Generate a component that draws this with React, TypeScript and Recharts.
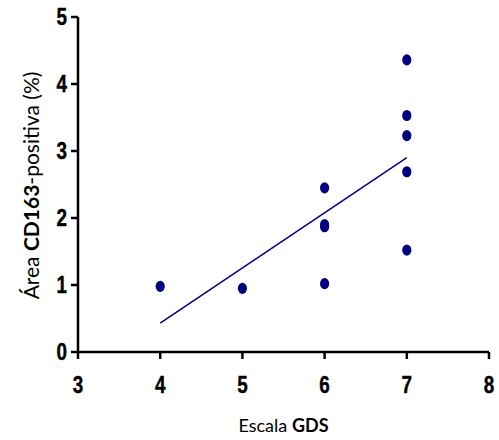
import React from "react";
import { ScatterChart, Scatter, XAxis, YAxis, Label } from "recharts";

const gdsScores = [4, 5, 6, 6, 6, 6, 7, 7, 7, 7, 7];
const cd163Area = [0.98, 0.95, 2.45, 1.9, 1.87, 1.02, 4.36, 3.53, 3.23, 2.69, 1.52];
const fitX = [4, 7];
const fitY = [0.43, 2.9];
const xTicks = [3, 4, 5, 6, 7, 8];
const yTicks = [0, 1, 2, 3, 4, 5];

const points = gdsScores.map((x, i) => ({ x, y: cd163Area[i] }));
const fitLine = fitX.map((x, i) => ({ x, y: fitY[i] }));

const NAVY = "#000080";
const tickFont = "'Liberation Sans', Arial, sans-serif";
const titleFont = "Lato, 'Open Sans', sans-serif";

const Dot = (props: any) => {
  const { cx, cy } = props;
  if (cx == null || cy == null) return <g />;
  return <ellipse cx={cx} cy={cy} rx={4.6} ry={5.6} fill={NAVY} />;
};
const NoDot = () => <g />;

const XTick = (props: any) => {
  const { x, y, payload } = props;
  return (
    <text
      x={0}
      y={0}
      transform={`translate(${x},${y + 32}) scale(0.82,1)`}
      textAnchor="middle"
      fontFamily={tickFont}
      fontWeight={700}
      fontSize={23}
      stroke="#000"
      strokeWidth={0.4}
      fill="#000"
    >
      {payload.value}
    </text>
  );
};

const YTick = (props: any) => {
  const { x, y, payload } = props;
  return (
    <text
      x={0}
      y={0}
      transform={`translate(${x - 2},${y + 8}) scale(0.82,1)`}
      textAnchor="end"
      fontFamily={tickFont}
      fontWeight={700}
      fontSize={23}
      stroke="#000"
      strokeWidth={0.4}
      fill="#000"
    >
      {payload.value}
    </text>
  );
};

const XTitle = (props: any) => {
  const vb = props.viewBox || {};
  const cx = vb.x + vb.width / 2;
  return (
    <text x={cx} y={432} textAnchor="middle" fontFamily={titleFont} fontSize={18} fill="#000">
      <tspan>Escala </tspan>
      <tspan fontWeight="bold">GDS</tspan>
    </text>
  );
};

const YTitle = (props: any) => {
  const vb = props.viewBox || {};
  const cy = vb.y + vb.height / 2 + 1;
  const cx = 39;
  return (
    <text
      x={cx}
      y={cy}
      textAnchor="middle"
      transform={`rotate(-90 ${cx} ${cy})`}
      fontFamily={titleFont}
      fontSize={21}
      fill="#000"
    >
      <tspan>Área </tspan>
      <tspan fontWeight="bold">CD163</tspan>
      <tspan>-positiva (%)</tspan>
    </text>
  );
};

export default function App() {
  return (
    <div style={{ position: "absolute", left: 0, top: 0, width: 499, height: 440, background: "#fff" }}>
      <ScatterChart width={499} height={440} margin={{ top: 17, right: 10, left: 0, bottom: 0 }}>
        <XAxis
          type="number"
          dataKey="x"
          domain={[3, 8]}
          ticks={xTicks}
          allowDataOverflow
          height={88}
          tickSize={7}
          axisLine={{ stroke: "#000", strokeWidth: 2.5 }}
          tickLine={{ stroke: "#000", strokeWidth: 2.5 }}
          tick={XTick}
          tickMargin={2}
        >
          <Label content={XTitle} />
        </XAxis>
        <YAxis
          type="number"
          dataKey="y"
          domain={[0, 5]}
          ticks={yTicks}
          allowDataOverflow
          width={78}
          tickSize={7}
          axisLine={{ stroke: "#000", strokeWidth: 2.5 }}
          tickLine={{ stroke: "#000", strokeWidth: 2.5 }}
          tick={YTick}
          tickMargin={2}
        >
          <Label content={YTitle} />
        </YAxis>
        <Scatter data={fitLine} line={{ stroke: NAVY, strokeWidth: 1.5 }} shape={NoDot} isAnimationActive={false} />
        <Scatter data={points} shape={Dot} isAnimationActive={false} />
      </ScatterChart>
    </div>
  );
}
